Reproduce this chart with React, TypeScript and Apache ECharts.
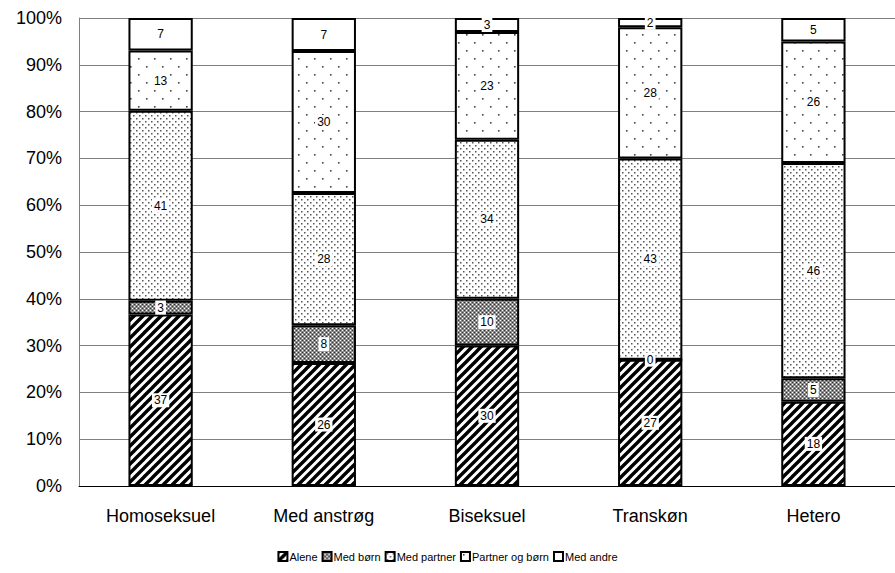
import React, { useEffect, useRef } from "react";
import * as echarts from "echarts";

const categories = ["Homoseksuel", "Med anstrøg", "Biseksuel", "Transkøn", "Hetero"];
const seriesNames = ["Alene", "Med børn", "Med partner", "Partner og børn", "Med andre"];
const alene = [37, 26, 30, 27, 18];
const medBorn = [3, 8, 10, 0, 5];
const medPartner = [41, 28, 34, 43, 46];
const partnerOgBorn = [13, 30, 23, 28, 26];
const medAndre = [7, 7, 3, 2, 5];
const yTicks = [0, 10, 20, 30, 40, 50, 60, 70, 80, 90, 100];

function makeTile(size: number, draw: (ctx: CanvasRenderingContext2D) => void) {
  const c = document.createElement("canvas");
  c.width = size;
  c.height = size;
  const ctx = c.getContext("2d")!;
  ctx.fillStyle = "#ffffff";
  ctx.fillRect(0, 0, size, size);
  draw(ctx);
  return c;
}

function patterns() {
  const stripes = makeTile(9, (ctx) => {
    ctx.strokeStyle = "#000";
    ctx.lineWidth = 3.4;
    ctx.beginPath();
    for (let k = -9; k <= 18; k += 9) {
      ctx.moveTo(k - 2, 11);
      ctx.lineTo(k + 11, -2);
    }
    ctx.stroke();
  });
  const check = makeTile(4, (ctx) => {
    ctx.fillStyle = "#8a8a8a";
    ctx.fillRect(0, 0, 4, 4);
    ctx.fillStyle = "#ffffff";
    ctx.fillRect(0, 0, 1, 1);
    ctx.fillRect(2, 2, 1, 1);
    ctx.fillStyle = "#333";
    ctx.fillRect(2, 0, 1, 1);
    ctx.fillRect(0, 2, 1, 1);
  });
  const dense = makeTile(6, (ctx) => {
    ctx.fillStyle = "#555";
    ctx.fillRect(1, 1, 1.5, 1.5);
    ctx.fillRect(4, 4, 1.5, 1.5);
  });
  const sparse = makeTile(16, (ctx) => {
    ctx.fillStyle = "#444";
    ctx.fillRect(2, 2, 1.6, 1.6);
    ctx.fillRect(10, 10, 1.6, 1.6);
  });
  return [
    { image: stripes, repeat: "repeat" },
    { image: check, repeat: "repeat" },
    { image: dense, repeat: "repeat" },
    { image: sparse, repeat: "repeat" },
    "#ffffff",
  ];
}

export default function App() {
  const ref = useRef<HTMLDivElement>(null);
  useEffect(() => {
    if (!ref.current) return;
    const chart = echarts.init(ref.current, null, { renderer: "svg" });
    const raw = [alene, medBorn, medPartner, partnerOgBorn, medAndre];
    const sums = categories.map((_, i) => raw.reduce((s, arr) => s + arr[i], 0));
    const fills = patterns();
    const font = "'Liberation Sans', Arial, sans-serif";
    const series = raw.map((arr, si) => ({
      name: seriesNames[si],
      type: "bar",
      stack: "total",
      barWidth: "39.4%",
      data: arr.map((v, i) => ({ value: (v / sums[i]) * 100, raw: v })),
      itemStyle: { color: fills[si] as any, borderColor: "#000", borderWidth: 2 },
      label: {
        show: true,
        position: "inside",
        formatter: (p: any) => String(p.data.raw),
        color: "#000",
        fontSize: 12,
        fontFamily: font,
        backgroundColor: "#fff",
        padding: [1, 2],
      },
    }));
    chart.setOption({
      animation: false,
      textStyle: { fontFamily: font },
      grid: { left: 79, top: 18, width: 825, height: 468, containLabel: false },
      xAxis: {
        type: "category",
        data: categories,
        axisLine: { lineStyle: { color: "#000", width: 1 } },
        axisTick: { show: false },
        axisLabel: { fontSize: 18, color: "#000", margin: 21, fontFamily: font },
      },
      yAxis: {
        type: "value",
        min: yTicks[0],
        max: yTicks[yTicks.length - 1],
        interval: 10,
        axisLine: { show: true, lineStyle: { color: "#808080" } },
        axisTick: { show: false },
        splitLine: { lineStyle: { color: "#808080", width: 1 } },
        axisLabel: { fontSize: 18, color: "#000", formatter: "{value}%", margin: 17, fontFamily: font },
      },
      legend: {
        bottom: 6,
        left: "center",
        itemWidth: 9,
        itemHeight: 9,
        itemGap: 4,
        icon: "rect",
        textStyle: { fontSize: 11, color: "#000", fontFamily: font, padding: [0, 0, 0, -3] },
        data: seriesNames,
      },
      series,
    });
    return () => chart.dispose();
  }, []);
  return <div ref={ref} style={{ width: 895, height: 573, position: "absolute", left: 0, top: 0 }} />;
}
